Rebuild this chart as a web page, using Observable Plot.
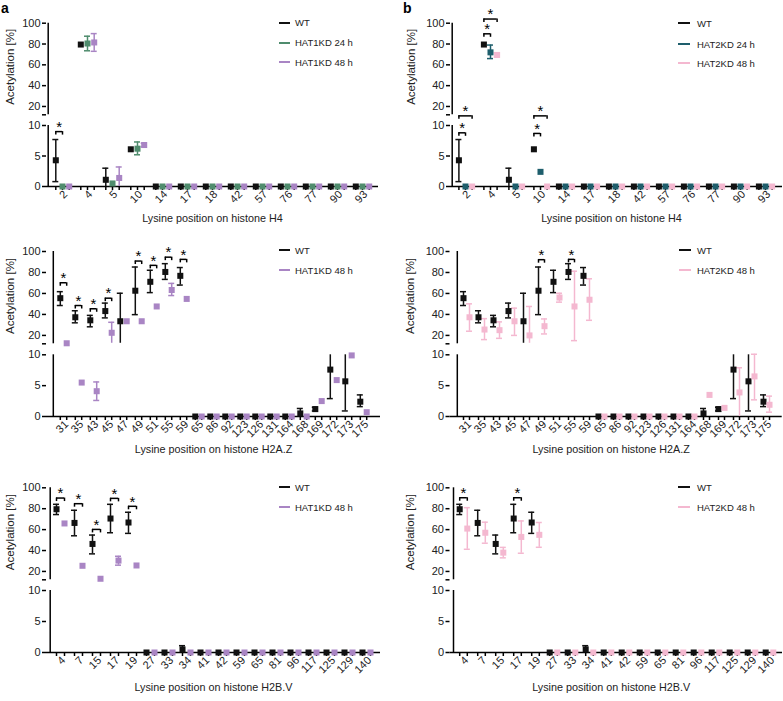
<!DOCTYPE html>
<html><head><meta charset="utf-8">
<script src="https://cdn.jsdelivr.net/npm/d3@7"></script>
<script src="https://cdn.jsdelivr.net/npm/@observablehq/plot@0.6"></script>
<style>
body{margin:0;background:#fff;font-family:"Liberation Sans",Arial,Helvetica,sans-serif;}
#root{position:relative;width:783px;height:701px;overflow:hidden;background:#fff;}
.panel{position:absolute;}
.legend-item{position:absolute;white-space:nowrap;display:flex;align-items:center;font-size:9.5px;color:#222;height:12px;}
.legend-item .sw{display:inline-block;height:2px;}
.letter{position:absolute;font-weight:bold;font-size:14px;line-height:14px;color:#000;}
</style></head><body><div id="root"></div>
<script>
// ---------- Histone H4 ----------
const h4Cats = ["2","4","5","10","14","17","18","42","57","76","77","90","93"];
const h4WT        = [4.3, 79.5, 1.1, 6.1, 0, 0, 0, 0, 0, 0, 0, 0, 0];
const h4WTLo      = [0.8, null, 0, null, null, null, null, null, null, null, null, null, null];
const h4WTHi      = [7.7, null, 3.0, null, null, null, null, null, null, null, null, null, null];
const h4Hat1D24   = [0, 80.5, 0.5, 6.2, 0, 0, 0, 0, 0, 0, 0, 0, 0];
const h4Hat1D24Lo = [null, 73.5, null, 5.2, null, null, null, null, null, null, null, null, null];
const h4Hat1D24Hi = [null, 87.5, null, 7.3, null, null, null, null, null, null, null, null, null];
const h4Hat1D48   = [0, 81.5, 1.4, 6.8, 0, 0, 0, 0, 0, 0, 0, 0, 0];
const h4Hat1D48Lo = [null, 73, 0, 6.5, null, null, null, null, null, null, null, null, null];
const h4Hat1D48Hi = [null, 90, 3.2, 7.1, null, null, null, null, null, null, null, null, null];
const h4Hat2D24   = [0, 72, 0, 2.4, 0, 0, 0, 0, 0, 0, 0, 0, 0];
const h4Hat2D24Lo = [null, 66, null, null, null, null, null, null, null, null, null, null, null];
const h4Hat2D24Hi = [null, 79, null, null, null, null, null, null, null, null, null, null, null];
const h4Hat2D48   = [0, 69.5, 0, 0, 0, 0, 0, 0, 0, 0, 0, 0, 0];
const h4Hat2D48Lo = [null, 67.5, null, null, null, null, null, null, null, null, null, null, null];
const h4Hat2D48Hi = [null, 71.5, null, null, null, null, null, null, null, null, null, null, null];
const h4Hat1BracketCat = ["2"];
const h4Hat1BracketTo  = [1];
const h4Hat1BracketY   = [9];
const h4Hat2BracketCat = ["2", "2", "4", "4", "10", "10"];
const h4Hat2BracketTo  = [1, 2, 1, 2, 1, 2];
const h4Hat2BracketY   = [8.8, 11.8, 89.8, 104, 8.7, 11.8];

// ---------- Histone H2A.Z ----------
const h2azCats = ["31","35","43","45","47","49","51","55","59","65","86","92","123","126","131","164","168","169","172","173","175"];
const h2azWT        = [55.5, 37.3, 34.4, 43.2, 33.5, 62.6, 71.1, 80.5, 76.8, 0, 0, 0, 0, 0, 0, 0, 0.5, 1.2, 7.6, 5.7, 2.4];
const h2azWTLo      = [48.5, 32, 28.2, 36.7, 12.5, 39.8, 60.8, 73.4, 68, null, null, null, null, null, null, null, 0, 0.9, 2.9, 0.9, 1.6];
const h2azWTHi      = [61.7, 43.5, 39.1, 50.8, 60.2, 85.2, 82.1, 88.4, 84.7, null, null, null, null, null, null, null, 1.3, 1.5, 10, 10, 3.5];
const h2azHat1D48   = [12.5, 5.5, 4.1, 22.5, 33.5, 33.5, 47.6, 63.3, 54.8, 0, 0, 0, 0, 0, 0, 0, 0, 2.5, 5.9, 9.9, 0.7];
const h2azHat1D48Lo = [null, null, 2.6, 12.5, null, null, null, 58, null, null, null, null, null, null, null, null, null, null, null, null, null];
const h2azHat1D48Hi = [null, null, 5.6, 32.5, null, null, null, 69.6, null, null, null, null, null, null, null, null, null, null, null, null, null];
const h2azHat2D48   = [37.3, 25.6, 25, 33.5, 20, 28.8, 56.1, 47.6, 54, 0, 0, 0, 0, 0, 0, 0, 3.5, 1.4, 3.9, 6.5, 1.9];
const h2azHat2D48Lo = [24, 16, 17.2, 20, 12.5, 21.4, 51.7, 15, 34.4, null, null, null, null, null, null, null, null, null, 0, 2.7, 0.7];
const h2azHat2D48Hi = [50.1, 36, 32.9, 46, 47.6, 35.7, 60.2, 81.2, 74, null, null, null, null, null, null, null, null, null, 7.9, 10.1, 3.3];
const h2azHat1BracketCat = ["31", "35", "43", "45", "49", "51", "55", "59"];
const h2azHat1BracketTo  = [1, 1, 1, 1, 1, 1, 1, 1];
const h2azHat1BracketY   = [70.2, 48.5, 45.4, 55.5, 90.9, 86.8, 94.6, 92.5];
const h2azHat2BracketCat = ["49", "55"];
const h2azHat2BracketTo  = [1, 1];
const h2azHat2BracketY   = [92.2, 92.5];

// ---------- Histone H2B.V ----------
const h2bCats = ["4","7","15","17","19","27","33","34","41","42","59","65","81","96","117","125","129","140"];
const h2bWT        = [79.5, 66.4, 46.3, 70.6, 66.8, 0, 0, 0.5, 0, 0, 0, 0, 0, 0, 0, 0, 0, 0];
const h2bWTLo      = [74.4, 54.1, 36.8, 57, 56.4, null, null, 0, null, null, null, null, null, null, null, null, null, null];
const h2bWTHi      = [84.2, 78.5, 54.8, 84.2, 76.6, null, null, 1.1, null, null, null, null, null, null, null, null, null, null];
const h2bHat1D48   = [65.9, 25.4, 13, 30.4, 25.7, 0, 0, 0, 0, 0, 0, 0, 0, 0, 0, 0, 0, 0];
const h2bHat1D48Lo = [null, null, null, 26, null, null, null, null, null, null, null, null, null, null, null, null, null, null];
const h2bHat1D48Hi = [null, null, null, 34.5, null, null, null, null, null, null, null, null, null, null, null, null, null, null];
const h2bHat2D48   = [61, 57, 38, 53, 55, 0, 0, 0, 0, 0, 0, 0, 0, 0, 0, 0, 0, 0];
const h2bHat2D48Lo = [41.2, 47, 33, 37.4, 43.1, null, null, null, null, null, null, null, null, null, null, null, null, null];
const h2bHat2D48Hi = [81, 67.1, 43, 68.3, 66.8, null, null, null, null, null, null, null, null, null, null, null, null, null];
const h2bHat1BracketCat = ["4", "7", "15", "17", "19"];
const h2bHat1BracketTo  = [1, 1, 1, 1, 1];
const h2bHat1BracketY   = [90.2, 84.8, 60.2, 89.9, 82.3];
const h2bHat2BracketCat = ["4", "17"];
const h2bHat2BracketTo  = [1, 1];
const h2bHat2BracketY   = [90.5, 90.5];

// ---------- labels / colours ----------
const yTicks = [0, 5, 10, 20, 40, 60, 80, 100];
const yTitle = "Acetylation [%]";
const colWT = "#111111", colH1a = "#4f8c6d", colH1b = "#a985c4", colH2a = "#1e5e6c", colH2b = "#f4b8d0";

const fontFamily = '"Liberation Sans", Arial, Helvetica, sans-serif';

function makeRows(cats, v, lo, hi) {
  return cats.map((cat, i) => ({cat, v: v[i], lo: lo[i], hi: hi[i]}));
}

function buildPanel(cfg) {
  const {W, H, ml, mr, y0, y10, y12, y100, xFirst, xLast, cats, series, bCat, bTo, bY, xTitle, yTitleDx, xTitleDy, xTitleDx} = cfg;
  const marks = [];
  const cap = 3;
  const atBreak = v => v === 10 || v === 12.5 || v === 0;
  // broken y axis line
  marks.push(Plot.ruleX([[0, 10], [12, 100]], {x: () => cats[0], dx: ml - xFirst, y1: d => d[0], y2: d => d[1], stroke: "#000", strokeWidth: 1.5}));
  marks.push(Plot.axisY({ticks: [...yTicks, 12], tickFormat: d => d === 12 ? "" : d, tickSize: 4, tickPadding: 2, stroke: "#000", strokeWidth: 1.5, fontSize: 11, label: null}));
  // x axis line + ticks under every point slot
  marks.push(Plot.ruleY([0], {stroke: "#000", strokeWidth: 1.5}));
  for (const s of series) marks.push(Plot.ruleX(cats, {x: d => d, y1: 0, y2: 0, dx: s.offset, insetBottom: -4, stroke: "#000", strokeWidth: 1.5}));
  marks.push(Plot.axisX({tickSize: 0, tickRotate: -45, tickPadding: 6, fontSize: 11, label: null, dx: 3, fill: "#222"}));
  // error bars
  for (const s of series) {
    const rows = makeRows(cats, s.values, s.lo, s.hi).filter(r => r.lo != null && r.hi != null);
    marks.push(Plot.ruleX(rows, {x: "cat", y1: "lo", y2: "hi", dx: s.offset, stroke: s.color, strokeWidth: 1.5}));
    marks.push(Plot.ruleY(rows.filter(r => !atBreak(r.lo)), {y: "lo", x1: "cat", x2: "cat", dx: s.offset, insetLeft: -cap, insetRight: -cap, stroke: s.color, strokeWidth: 1.5}));
    marks.push(Plot.ruleY(rows.filter(r => !atBreak(r.hi)), {y: "hi", x1: "cat", x2: "cat", dx: s.offset, insetLeft: -cap, insetRight: -cap, stroke: s.color, strokeWidth: 1.5}));
  }
  // points
  for (const s of series) {
    marks.push(Plot.dot(makeRows(cats, s.values, s.lo, s.hi), {x: "cat", y: "v", dx: s.offset, symbol: "square", r: 3.4, fill: s.color}));
  }
  // significance brackets
  const oW = series[0].offset;
  const brackets = bCat.map((cat, i) => ({cat, to: bTo[i], y: bY[i]}));
  for (let t = 1; t < series.length; t++) {
    const bk = brackets.filter(b => b.to === t);
    if (!bk.length) continue;
    const oO = series[t].offset;
    marks.push(Plot.ruleY(bk, {y: "y", x1: "cat", x2: "cat", insetLeft: oW, insetRight: -oO, stroke: "#000", strokeWidth: 1.5}));
    marks.push(Plot.ruleX(bk, {x: "cat", y1: "y", y2: "y", dx: oW, insetBottom: -3.5, stroke: "#000", strokeWidth: 1.5}));
    marks.push(Plot.ruleX(bk, {x: "cat", y1: "y", y2: "y", dx: oO, insetBottom: -3.5, stroke: "#000", strokeWidth: 1.5}));
    marks.push(Plot.text(bk, {x: "cat", y: "y", dx: (oW + oO) / 2, dy: -4.5, text: () => "*", fontSize: 15, fill: "#000"}));
  }
  // titles
  marks.push(Plot.text([yTitle], {frameAnchor: "left", rotate: -90, dx: yTitleDx, fontSize: 11.5, fill: "#222"}));
  marks.push(Plot.text([xTitle], {frameAnchor: "bottom", dy: xTitleDy, dx: xTitleDx || 0, fontSize: 10.8, fill: "#222"}));

  return Plot.plot({
    width: W, height: H,
    marginLeft: ml, marginRight: mr, marginTop: y100, marginBottom: H - y0,
    x: {type: "point", domain: cats, range: [xFirst, xLast], padding: 0},
    y: {type: "linear", domain: [0, 10, 12, 100], range: [y0, y10, y12, y100]},
    style: {fontFamily, fontSize: "11px", color: "#222", background: "transparent", overflow: "visible"},
    marks
  });
}

const root = document.getElementById("root");

function place(node, left, top) {
  const d = document.createElement("div");
  d.className = "panel";
  d.style.left = left + "px"; d.style.top = top + "px";
  d.appendChild(node);
  root.appendChild(d);
}

function legend(left, top, lineX, lineW, textX, items) {
  for (const it of items) {
    const d = document.createElement("div");
    d.className = "legend-item";
    d.style.left = (left + lineX) + "px";
    d.style.top = (top + it.y - 6) + "px";
    const sw = document.createElement("span");
    sw.className = "sw"; sw.style.width = lineW + "px"; sw.style.background = it.color;
    sw.style.marginRight = (textX - lineX - lineW) + "px";
    d.appendChild(sw);
    d.appendChild(document.createTextNode(it.label));
    root.appendChild(d);
  }
}

function letter(t, left, top) {
  const d = document.createElement("div");
  d.className = "letter"; d.textContent = t;
  d.style.left = left + "px"; d.style.top = top + "px";
  root.appendChild(d);
}

// Row 1: H4
place(buildPanel({W: 390, H: 228, ml: 46, mr: 12, y0: 186, y10: 125, y12: 114.3, y100: 22.7, xFirst: 60.3, xLast: 364.3,
  cats: h4Cats, series: [
    {values: h4WT, lo: h4WTLo, hi: h4WTHi, color: colWT, offset: -6.7},
    {values: h4Hat1D24, lo: h4Hat1D24Lo, hi: h4Hat1D24Hi, color: colH1a, offset: 0},
    {values: h4Hat1D48, lo: h4Hat1D48Lo, hi: h4Hat1D48Hi, color: colH1b, offset: 6.7}],
  bCat: h4Hat1BracketCat, bTo: h4Hat1BracketTo, bY: h4Hat1BracketY,
  xTitle: "Lysine position on histone H4", yTitleDx: -36, xTitleDy: 35}), 0, 0);
place(buildPanel({W: 393, H: 228, ml: 60, mr: 1, y0: 186, y10: 125, y12: 114.3, y100: 22.7, xFirst: 73.3, xLast: 377.7,
  cats: h4Cats, series: [
    {values: h4WT, lo: h4WTLo, hi: h4WTHi, color: colWT, offset: -6.6},
    {values: h4Hat2D24, lo: h4Hat2D24Lo, hi: h4Hat2D24Hi, color: colH2a, offset: 0},
    {values: h4Hat2D48, lo: h4Hat2D48Lo, hi: h4Hat2D48Hi, color: colH2b, offset: 6.6}],
  bCat: h4Hat2BracketCat, bTo: h4Hat2BracketTo, bY: h4Hat2BracketY,
  xTitle: "Lysine position on histone H4", yTitleDx: -39.5, xTitleDy: 35, xTitleDx: -5}), 390, 0);

// Row 2: H2A.Z
place(buildPanel({W: 390, H: 232, ml: 46, mr: 10, y0: 188, y10: 126.3, y12: 115.3, y100: 23, xFirst: 56.2, xLast: 369.8,
  cats: h2azCats, series: [
    {values: h2azWT, lo: h2azWTLo, hi: h2azWTHi, color: colWT, offset: -3.2},
    {values: h2azHat1D48, lo: h2azHat1D48Lo, hi: h2azHat1D48Hi, color: colH1b, offset: 3.2}],
  bCat: h2azHat1BracketCat, bTo: h2azHat1BracketTo, bY: h2azHat1BracketY,
  xTitle: "Lysine position on histone H2A.Z", yTitleDx: -36, xTitleDy: 36}), 0, 228);
place(buildPanel({W: 393, H: 232, ml: 59.5, mr: 1.3, y0: 188, y10: 126.3, y12: 115.3, y100: 23, xFirst: 68.7, xLast: 384,
  cats: h2azCats, series: [
    {values: h2azWT, lo: h2azWTLo, hi: h2azWTHi, color: colWT, offset: -3},
    {values: h2azHat2D48, lo: h2azHat2D48Lo, hi: h2azHat2D48Hi, color: colH2b, offset: 3}],
  bCat: h2azHat2BracketCat, bTo: h2azHat2BracketTo, bY: h2azHat2BracketY,
  xTitle: "Lysine position on histone H2A.Z", yTitleDx: -39.5, xTitleDy: 36, xTitleDx: -5}), 390, 228);

// Row 3: H2B.V
place(buildPanel({W: 390, H: 241, ml: 46, mr: 10, y0: 192, y10: 130, y12: 119.3, y100: 27.3, xFirst: 56.3, xLast: 369.5,
  cats: h2bCats, series: [
    {values: h2bWT, lo: h2bWTLo, hi: h2bWTHi, color: colWT, offset: -4},
    {values: h2bHat1D48, lo: h2bHat1D48Lo, hi: h2bHat1D48Hi, color: colH1b, offset: 4}],
  bCat: h2bHat1BracketCat, bTo: h2bHat1BracketTo, bY: h2bHat1BracketY,
  xTitle: "Lysine position on histone H2B.V", yTitleDx: -36, xTitleDy: 38}), 0, 460);
place(buildPanel({W: 393, H: 241, ml: 59.5, mr: 1, y0: 192, y10: 130, y12: 119.3, y100: 27.3, xFirst: 69.5, xLast: 382,
  cats: h2bCats, series: [
    {values: h2bWT, lo: h2bWTLo, hi: h2bWTHi, color: colWT, offset: -3.8},
    {values: h2bHat2D48, lo: h2bHat2D48Lo, hi: h2bHat2D48Hi, color: colH2b, offset: 3.8}],
  bCat: h2bHat2BracketCat, bTo: h2bHat2BracketTo, bY: h2bHat2BracketY,
  xTitle: "Lysine position on histone H2B.V", yTitleDx: -39.5, xTitleDy: 38, xTitleDx: -5}), 390, 460);

// legends
legend(0, 0, 279, 11, 295, [{label: "WT", color: colWT, y: 22.7}, {label: "HAT1KD 24 h", color: colH1a, y: 42.7}, {label: "HAT1KD 48 h", color: colH1b, y: 62.3}]);
legend(390, 0, 288, 12, 307, [{label: "WT", color: colWT, y: 23.3}, {label: "HAT2KD 24 h", color: colH2a, y: 44.3}, {label: "HAT2KD 48 h", color: colH2b, y: 63.3}]);
legend(0, 228, 279, 11, 295, [{label: "WT", color: colWT, y: 22}, {label: "HAT1KD 48 h", color: colH1b, y: 42}]);
legend(390, 228, 289, 12, 307, [{label: "WT", color: colWT, y: 22}, {label: "HAT2KD 48 h", color: colH2b, y: 42}]);
legend(0, 460, 279, 11, 295, [{label: "WT", color: colWT, y: 27.3}, {label: "HAT1KD 48 h", color: colH1b, y: 47.3}]);
legend(390, 460, 288, 12, 307, [{label: "WT", color: colWT, y: 27.3}, {label: "HAT2KD 48 h", color: colH2b, y: 47.3}]);

letter("a", 1, 1);
letter("b", 403, 1);
</script>
</body></html>
